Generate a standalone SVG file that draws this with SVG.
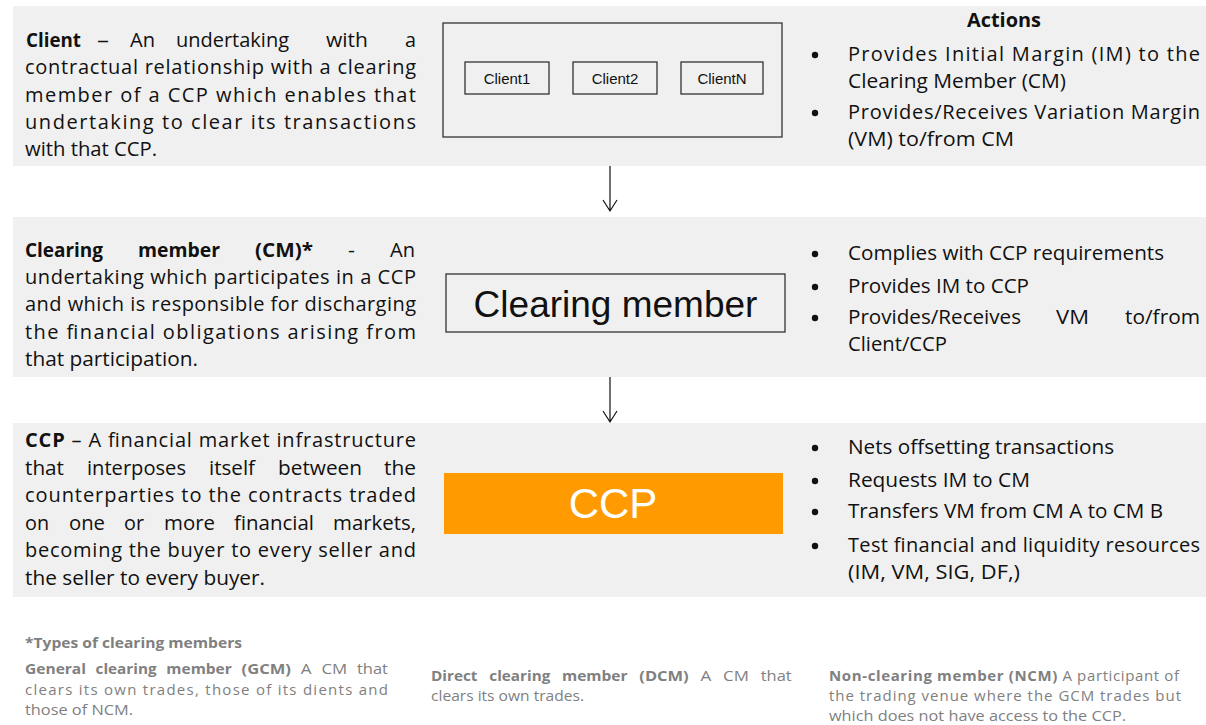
<svg xmlns="http://www.w3.org/2000/svg" width="1206" height="725" viewBox="0 0 1206 725">
<style>
.band{fill:#f0f0f0}
.t{font-family:"Open Sans","Noto Sans",sans-serif;font-size:20px;fill:#111}
.b{font-weight:bold}
.dot{fill:#111}
.f{font-family:"Open Sans","Noto Sans",sans-serif;font-size:15px;fill:#808080}
.box{fill:none;stroke:#333;stroke-width:1.3}
.a{font-family:"Liberation Sans",Arial,sans-serif;fill:#111}
.conn{stroke:#111;stroke-width:1.2;fill:none}
</style>
<g id="bands">
<rect class="band" x="13" y="6" width="1193" height="160"/>
<rect class="band" x="13" y="217" width="1193" height="160"/>
<rect class="band" x="13" y="423" width="1193" height="174"/>
</g>
<g id="client-def">
<g lengthAdjust="spacingAndGlyphs">
<text class="t b" x="26" y="47" textLength="55" lengthAdjust="spacingAndGlyphs">Client</text>
<text class="t" x="97" y="47" textLength="12" lengthAdjust="spacingAndGlyphs">–</text>
<text class="t" x="130" y="47" textLength="25" lengthAdjust="spacingAndGlyphs">An</text>
<text class="t" x="176" y="47" textLength="113" lengthAdjust="spacingAndGlyphs">undertaking</text>
<text class="t" x="326" y="47" textLength="42" lengthAdjust="spacingAndGlyphs">with</text>
<text class="t" x="405" y="47" textLength="11" lengthAdjust="spacingAndGlyphs">a</text>
</g>
<text class="t" x="25" y="74" textLength="391" lengthAdjust="spacing">contractual relationship with a clearing</text>
<text class="t" x="25" y="102" textLength="391" lengthAdjust="spacing">member of a CCP which enables that</text>
<text class="t" x="25" y="129" textLength="391" lengthAdjust="spacing">undertaking to clear its transactions</text>
<text class="t" x="25" y="156" textLength="132" lengthAdjust="spacingAndGlyphs">with that CCP.</text>
</g>
<g id="clients">
<rect class="box" x="443" y="23" width="339" height="114"/>
<rect class="box" x="465" y="62" width="84" height="32"/>
<rect class="box" x="573" y="62" width="84" height="32"/>
<rect class="box" x="681" y="62" width="82" height="32"/>
<text class="a" x="507" y="84" font-size="15" text-anchor="middle">Client1</text>
<text class="a" x="615" y="84" font-size="15" text-anchor="middle">Client2</text>
<text class="a" x="722" y="84" font-size="15" text-anchor="middle">ClientN</text>
</g>
<g id="client-actions">
<text class="t b" x="967" y="27" textLength="74" lengthAdjust="spacingAndGlyphs">Actions</text>
<circle class="dot" cx="815" cy="55" r="3.2"/>
<text class="t" x="848" y="61" textLength="352" lengthAdjust="spacing">Provides Initial Margin (IM) to the</text>
<text class="t" x="848" y="88" textLength="218" lengthAdjust="spacingAndGlyphs">Clearing Member (CM)</text>
<circle class="dot" cx="815" cy="113" r="3.2"/>
<text class="t" x="848" y="119" textLength="352" lengthAdjust="spacing">Provides/Receives Variation Margin</text>
<text class="t" x="848" y="146" textLength="166" lengthAdjust="spacingAndGlyphs">(VM) to/from CM</text>
</g>
<g id="cm-def">
<text class="t b" x="25" y="257" textLength="78" lengthAdjust="spacingAndGlyphs">Clearing</text>
<text class="t b" x="138" y="257" textLength="82" lengthAdjust="spacingAndGlyphs">member</text>
<text class="t b" x="255" y="257" textLength="58" lengthAdjust="spacingAndGlyphs">(CM)*</text>
<text class="t" x="348" y="257" textLength="7" lengthAdjust="spacingAndGlyphs">-</text>
<text class="t" x="390" y="257" textLength="25" lengthAdjust="spacingAndGlyphs">An</text>
<text class="t" x="25" y="284" textLength="391" lengthAdjust="spacing">undertaking which participates in a CCP</text>
<text class="t" x="25" y="311" textLength="391" lengthAdjust="spacing">and which is responsible for discharging</text>
<text class="t" x="25" y="339" textLength="391" lengthAdjust="spacing">the financial obligations arising from</text>
<text class="t" x="25" y="366" textLength="173" lengthAdjust="spacingAndGlyphs">that participation.</text>
</g>
<g id="clearing-member">
<rect class="box" x="446" y="274" width="339" height="58"/>
<text class="a" x="615.5" y="317" font-size="37" text-anchor="middle">Clearing member</text>
</g>
<g id="cm-actions">
<circle class="dot" cx="815" cy="254" r="3.2"/>
<text class="t" x="848" y="260" textLength="316" lengthAdjust="spacingAndGlyphs">Complies with CCP requirements</text>
<circle class="dot" cx="815" cy="287" r="3.2"/>
<text class="t" x="848" y="293" textLength="181" lengthAdjust="spacingAndGlyphs">Provides IM to CCP</text>
<circle class="dot" cx="815" cy="318" r="3.2"/>
<text class="t" x="848" y="324" textLength="173" lengthAdjust="spacingAndGlyphs">Provides/Receives</text>
<text class="t" x="1056" y="324" textLength="33" lengthAdjust="spacingAndGlyphs">VM</text>
<text class="t" x="1125" y="324" textLength="75" lengthAdjust="spacingAndGlyphs">to/from</text>
<text class="t" x="848" y="351" textLength="99" lengthAdjust="spacingAndGlyphs">Client/CCP</text>
</g>
<g id="ccp-def">
<text class="t" x="25" y="447" textLength="391" lengthAdjust="spacing"><tspan class="b">CCP</tspan> – A financial market infrastructure</text>
<text class="t" x="25" y="475" textLength="39" lengthAdjust="spacingAndGlyphs">that</text>
<text class="t" x="87" y="475" textLength="99" lengthAdjust="spacingAndGlyphs">interposes</text>
<text class="t" x="209" y="475" textLength="46" lengthAdjust="spacingAndGlyphs">itself</text>
<text class="t" x="278" y="475" textLength="84" lengthAdjust="spacingAndGlyphs">between</text>
<text class="t" x="384" y="475" textLength="32" lengthAdjust="spacingAndGlyphs">the</text>
<text class="t" x="25" y="502" textLength="391" lengthAdjust="spacing">counterparties to the contracts traded</text>
<text class="t" x="25" y="530" textLength="24" lengthAdjust="spacingAndGlyphs">on</text>
<text class="t" x="69" y="530" textLength="36" lengthAdjust="spacingAndGlyphs">one</text>
<text class="t" x="124" y="530" textLength="20" lengthAdjust="spacingAndGlyphs">or</text>
<text class="t" x="164" y="530" textLength="51" lengthAdjust="spacingAndGlyphs">more</text>
<text class="t" x="234" y="530" textLength="80" lengthAdjust="spacingAndGlyphs">financial</text>
<text class="t" x="333" y="530" textLength="83" lengthAdjust="spacingAndGlyphs">markets,</text>
<text class="t" x="25" y="557" textLength="391" lengthAdjust="spacing">becoming the buyer to every seller and</text>
<text class="t" x="25" y="585" textLength="240" lengthAdjust="spacingAndGlyphs">the seller to every buyer.</text>
</g>
<g id="ccp">
<rect x="444" y="473" width="339" height="61" fill="#ff9b00"/>
<text class="a" x="613" y="518" font-size="42" text-anchor="middle" style="fill:#fff">CCP</text>
</g>
<g id="ccp-actions">
<circle class="dot" cx="815" cy="448" r="3.2"/>
<text class="t" x="848" y="454" textLength="266" lengthAdjust="spacingAndGlyphs">Nets offsetting transactions</text>
<circle class="dot" cx="815" cy="481" r="3.2"/>
<text class="t" x="848" y="487" textLength="182" lengthAdjust="spacingAndGlyphs">Requests IM to CM</text>
<circle class="dot" cx="815" cy="512" r="3.2"/>
<text class="t" x="848" y="518" textLength="315" lengthAdjust="spacingAndGlyphs">Transfers VM from CM A to CM B</text>
<circle class="dot" cx="815" cy="546" r="3.2"/>
<text class="t" x="848" y="552" textLength="352" lengthAdjust="spacing">Test financial and liquidity resources</text>
<text class="t" x="848" y="579" textLength="172" lengthAdjust="spacingAndGlyphs">(IM, VM, SIG, DF,)</text>
</g>
<g id="connectors">
<path class="conn" d="M610 166 V211 M603 200 L610 211 L617 200"/>
<path class="conn" d="M610 377 V422 M603 411 L610 422 L617 411"/>
</g>
<g id="footer">
<text class="f b" x="25" y="648" textLength="217" lengthAdjust="spacingAndGlyphs">*Types of clearing members</text>
<text class="f b" x="25" y="674" textLength="61" lengthAdjust="spacingAndGlyphs">General</text>
<text class="f b" x="95.6" y="674" textLength="61" lengthAdjust="spacingAndGlyphs">clearing</text>
<text class="f b" x="166.3" y="674" textLength="65.5" lengthAdjust="spacingAndGlyphs">member</text>
<text class="f b" x="241.6" y="674" textLength="49.4" lengthAdjust="spacingAndGlyphs">(GCM)</text>
<text class="f" x="300.8" y="674" textLength="10.8" lengthAdjust="spacingAndGlyphs">A</text>
<text class="f" x="321.4" y="674" textLength="25.8" lengthAdjust="spacingAndGlyphs">CM</text>
<text class="f" x="357" y="674" textLength="31" lengthAdjust="spacingAndGlyphs">that</text>
<text class="f" x="25" y="695" textLength="363" lengthAdjust="spacing">clears its own trades, those of its dients and</text>
<text class="f" x="25" y="715" textLength="108" lengthAdjust="spacingAndGlyphs">those of NCM.</text>
<text class="f b" x="431" y="681" textLength="46.5" lengthAdjust="spacingAndGlyphs">Direct</text>
<text class="f b" x="489.3" y="681" textLength="61" lengthAdjust="spacingAndGlyphs">clearing</text>
<text class="f b" x="562" y="681" textLength="65.5" lengthAdjust="spacingAndGlyphs">member</text>
<text class="f b" x="639.3" y="681" textLength="49.4" lengthAdjust="spacingAndGlyphs">(DCM)</text>
<text class="f" x="700.5" y="681" textLength="10.8" lengthAdjust="spacingAndGlyphs">A</text>
<text class="f" x="723.1" y="681" textLength="25.8" lengthAdjust="spacingAndGlyphs">CM</text>
<text class="f" x="760.7" y="681" textLength="31" lengthAdjust="spacingAndGlyphs">that</text>
<text class="f" x="431" y="701" textLength="153" lengthAdjust="spacingAndGlyphs">clears its own trades.</text>
<text class="f" x="829" y="681" textLength="350" lengthAdjust="spacing"><tspan class="b">Non-clearing member (NCM)</tspan> A participant of</text>
<text class="f" x="829" y="701" textLength="352" lengthAdjust="spacing">the trading venue where the GCM trades but</text>
<text class="f" x="829" y="721" textLength="297" lengthAdjust="spacingAndGlyphs">which does not have access to the CCP.</text>
</g>
</svg>
